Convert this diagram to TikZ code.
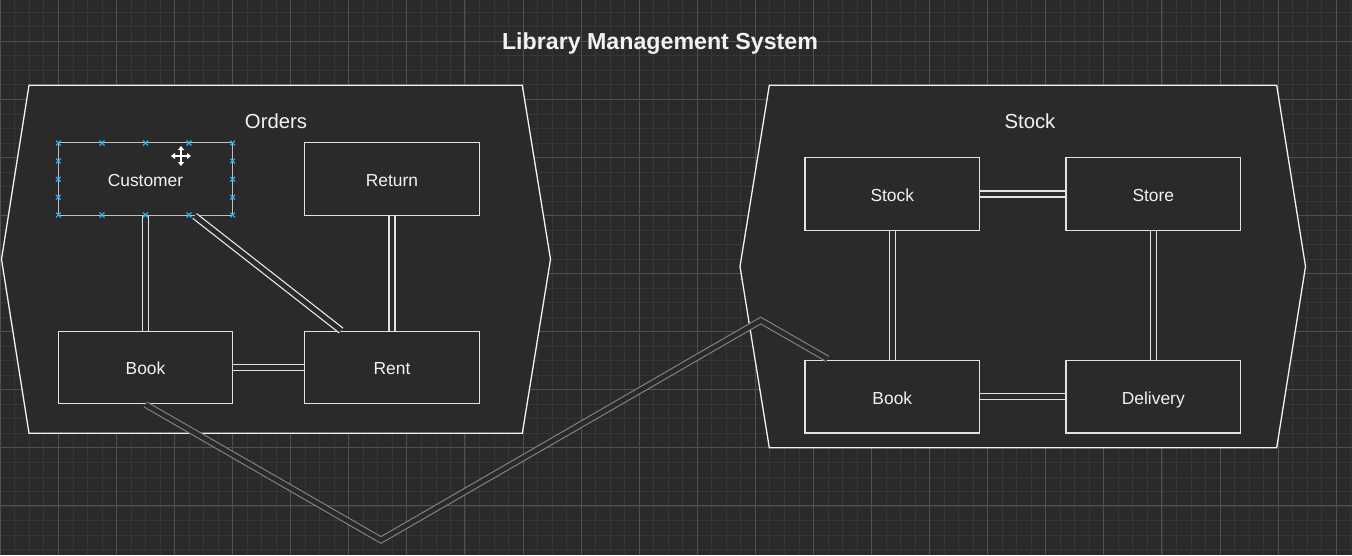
\documentclass[tikz,border=0pt]{standalone}
\usepackage{fontspec}
\setmainfont{Liberation Sans}
\usetikzlibrary{calc,arrows.meta}
\definecolor{bg}{HTML}{2A2A2A}
\definecolor{gridminor}{HTML}{363636}
\definecolor{gridmajor}{HTML}{505050}
\definecolor{stroke}{HTML}{F2F2F2}
\definecolor{boxstroke}{HTML}{E2E2E2}
\definecolor{linkgray}{HTML}{848484}
\definecolor{handle}{HTML}{29B6F2}
\begin{document}
\begin{tikzpicture}[x=1pt,y=-1pt,
  container/.style={draw=stroke,line width=1.3pt,fill=bg,line join=miter},
  entity/.style={draw=boxstroke,line width=1.3pt,fill=bg,minimum width=174.4pt,minimum height=72.6pt,inner sep=0pt,text=stroke,font=\fontsize{17.4}{20}\selectfont,text height=14.6pt,text depth=0pt},
  link/.style={draw=boxstroke,double=bg,double distance=4.7pt,line width=1.3pt},
  graylink/.style={draw=linkgray,double=bg,double distance=4.6pt,line width=1.1pt,line join=miter},
  ctitle/.style={text=stroke,font=\fontsize{20.3}{24}\selectfont,inner sep=0pt},
  handlemark/.style={draw=handle,line width=1.1pt}
]
\useasboundingbox (0,0) rectangle (1352,555);
% background and grid
\fill[bg] (0,0) rectangle (1352,555);
\foreach \k in {0,...,93} {
  \draw[gridminor,line width=0.8pt] ({0.3+14.52*\k},0) -- ({0.3+14.52*\k},555);
}
\foreach \k in {-1,...,38} {
  \draw[gridminor,line width=0.8pt] (0,{12.26+14.52*\k}) -- (1352,{12.26+14.52*\k});
}
\foreach \k in {0,...,23} {
  \draw[gridmajor,line width=0.9pt] ({0.3+58.08*\k},0) -- ({0.3+58.08*\k},555);
}
\foreach \k in {0,...,9} {
  \draw[gridmajor,line width=0.9pt] (0,{41.3+58.08*\k}) -- (1352,{41.3+58.08*\k});
}

% title
\node[text=stroke,font=\bfseries\fontsize{23.2}{26}\selectfont,inner sep=0pt] (title) at (660,43.5) {Library Management System};

% containers
\draw[container] (29,85.3) -- (522.3,85.3) -- (550.5,259.3) -- (522.3,433.3) -- (29,433.3) -- (1.5,259.3) -- cycle;
\draw[container] (769.3,85.3) -- (1276.7,85.3) -- (1305.5,266.5) -- (1276.7,447.7) -- (769.3,447.7) -- (740,266.5) -- cycle;
\node[ctitle] (orderstitle) at (276,121.5) {Orders};
\node[ctitle] (stocktitle) at (1030,121.5) {Stock};

% Orders entities
\node[entity,draw=boxstroke!85!black] (customer) at (145.5,179) {Customer};
\node[entity] (return) at (392,179) {Return};
\node[entity] (bookA) at (145.5,367.5) {Book};
\node[entity] (rent) at (392,367.5) {Rent};

% Stock entities
\node[entity] (stock) at (892.3,194) {Stock};
\node[entity] (store) at (1153.3,194) {Store};
\node[entity] (bookB) at (892.3,396.8) {Book};
\node[entity] (delivery) at (1153.3,396.8) {Delivery};

% Orders links
\draw[link] (customer) -- (bookA);
\draw[link] ($(customer.south west)+(137,0)$) -- ($(rent.north west)+(37,0)$);
\draw[link] (return) -- (rent);
\draw[link] (bookA) -- (rent);

% Stock links
\draw[link] (stock) -- (store);
\draw[link] (stock) -- (bookB);
\draw[link] (store) -- (delivery);
\draw[link] (bookB) -- (delivery);

% long link between the two Book entities
\coordinate (bend1) at (381,540);
\coordinate (bend2) at (760.7,320.5);
\draw[graylink] (bookA.south) -- (bend1) -- (bend2) -- ($(bookB.north west)+(23,-1)$);

% selection handles on Customer
\foreach \x in {58.3,102,145.5,189,232.7} {
  \foreach \y in {143,215} {
    \draw[handlemark] (\x-2.4,\y-2.4) -- (\x+2.4,\y+2.4) (\x-2.4,\y+2.4) -- (\x+2.4,\y-2.4);
  }
}
\foreach \x in {58.3,232.7} {
  \foreach \y in {161,179.3,197.3} {
    \draw[handlemark] (\x-2.4,\y-2.4) -- (\x+2.4,\y+2.4) (\x-2.4,\y+2.4) -- (\x+2.4,\y-2.4);
  }
}
% move cursor
\draw[black,line width=2.6pt] (172,156) -- (190,156) (181,147) -- (181,165);
\draw[white,line width=1.1pt,{Triangle[width=6pt,length=4pt]}-{Triangle[width=6pt,length=4pt]}] (171,156) -- (191,156);
\draw[white,line width=1.1pt,{Triangle[width=6pt,length=4pt]}-{Triangle[width=6pt,length=4pt]}] (181,146) -- (181,166);
\end{tikzpicture}
\end{document}
